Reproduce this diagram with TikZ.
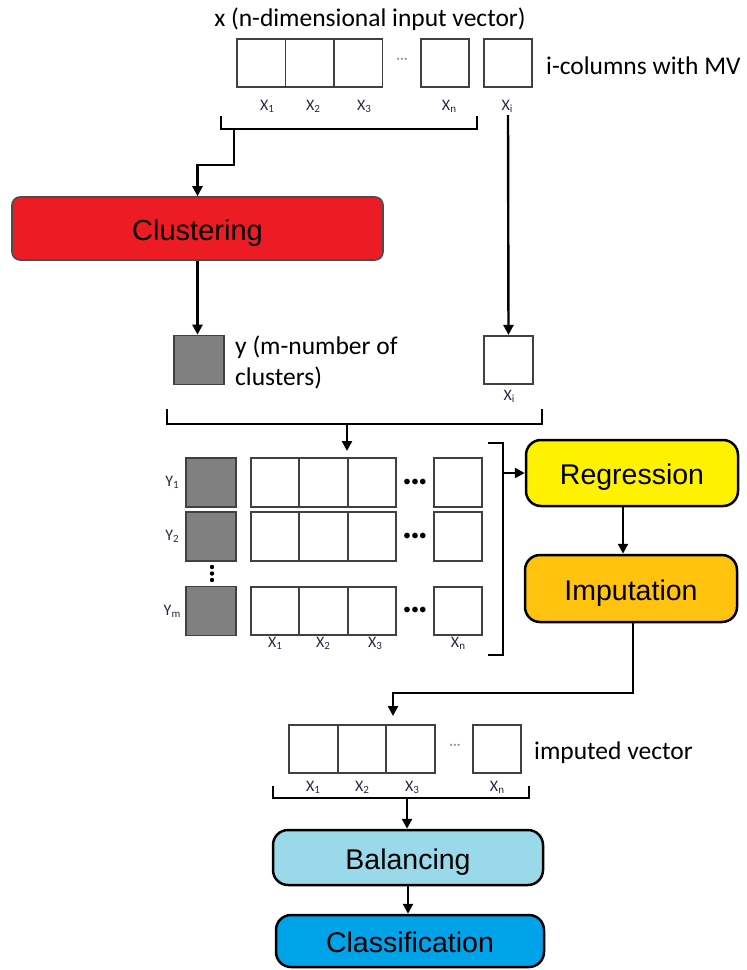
\documentclass[tikz,border=0pt]{standalone}
\usepackage{fontspec}
\setmainfont{Carlito}
\newfontfamily\arialf{Liberation Sans}
\usetikzlibrary{arrows.meta,calc}
\definecolor{clusterred}{RGB}{237,28,36}
\definecolor{regyellow}{RGB}{255,242,0}
\definecolor{impor}{RGB}{255,194,14}
\definecolor{balblue}{RGB}{153,217,234}
\definecolor{clsblue}{RGB}{0,162,232}
\definecolor{cellgray}{RGB}{128,128,128}
\definecolor{labcol}{RGB}{40,40,70}
\newcommand{\lsub}[1]{\raisebox{-2.2pt}{\fontsize{11}{11}\selectfont #1}}
\begin{document}
\begin{tikzpicture}[x=1pt,y=-1pt,
  cell/.style={draw=black!75,line width=1.7pt,fill=white,minimum width=48.5pt,minimum height=48.5pt,inner sep=0pt},
  graycell/.style={cell,fill=cellgray,minimum width=50pt,minimum height=49pt},
  lab/.style={font=\fontsize{16}{16}\selectfont,text=labcol,inner sep=0pt},
  big/.style={font=\fontsize{25.5}{31}\selectfont,inner sep=0pt},
  proc/.style={draw=black,line width=2.5pt,rounded corners=15pt,font=\arialf\fontsize{28.5}{30}\selectfont,inner sep=0pt,text height=23pt,text depth=0pt},
  lightdots/.style={font=\fontsize{15}{15}\selectfont,text=black!45,inner sep=0pt},
  bolddots/.style={font=\fontsize{16}{16}\selectfont,text=black,inner sep=0pt},
  conn/.style={line width=2.4pt,draw=black},
  arr/.style={conn,-{Triangle[length=10pt,width=10pt]}},
]
\useasboundingbox (0,0) rectangle (747,970);

% ---------- top input vector ----------
\node[big] (title) at (370,19) {x (n-dimensional input vector)};
\node[cell] (t1) at (261.3,63) {};
\node[cell] (t2) at (309.8,63) {};
\node[cell] (t3) at (358.3,63) {};
\node[lightdots] (tdots) at (402,61) {···};
\node[cell] (tn) at (445,63) {};
\node[cell] (ti) at (508,63) {};
\node[big,anchor=west] (mvlab) at (546,66) {i-columns with MV};
\node[lab] (lt1) at (267,106) {X\lsub{1}};
\node[lab] (lt2) at (313,106) {X\lsub{2}};
\node[lab] (lt3) at (364,106) {X\lsub{3}};
\node[lab] (ltn) at (449,106) {X\lsub{n}};
\node[lab] (lti) at (507,106) {X\lsub{i}};

% bracket under top vector
\coordinate (b1l) at (221,116);
\coordinate (b1r) at (477,116);
\coordinate (b1s) at (234,129);
\coordinate (b1k) at (234,165);
\coordinate (xis) at (508,115);
\draw[conn] (b1l) |- (b1s) -| (b1r);

% ---------- clustering ----------
\node[draw=black!70,line width=1.6pt,fill=clusterred,rounded corners=8pt,minimum width=371pt,minimum height=63pt,inner sep=0pt,text height=23pt,text depth=0pt,font=\arialf\fontsize{29}{30}\selectfont] (clust) at (197.5,228.5) {Clustering};
\draw[arr] (b1s) -- (b1k) -| (clust.north);

% ---------- y and xi ----------
\node[graycell] (ybox) at (199,360) {};
\node[big,anchor=west,align=left] (ylab) at (235,362) {y (m-number of\\clusters)};
\node[cell] (xibox) at (508.5,360) {};
\node[lab] (lxi) at (509,396) {X\lsub{i}};
\draw[arr] (clust.south) -- (clust.south |- ybox.north);
\draw[arr] (xis) -- (xibox.north);

% bracket under y / xi
\coordinate (b2l) at (167,409);
\coordinate (b2r) at (542,409);
\coordinate (b2s) at (347,424);
\coordinate (b2t) at (347,451);
\draw[conn] (b2l) |- (b2s) -| (b2r);
\draw[arr] (b2s) -- (b2t);

% ---------- cluster matrix ----------
\foreach \r/\yy/\sub in {1/482.5/1, 2/536.5/2, m/611/m}{
  \node[graycell] (g\r) at (211,\yy) {};
  \node[lab] (ly\r) at (172,\yy) {Y\lsub{\sub}};
  \node[cell] (m\r a) at (275,\yy) {};
  \node[cell] (m\r b) at (323.5,\yy) {};
  \node[cell] (m\r c) at (372,\yy) {};
  \node[bolddots] (md\r) at (415,\yy) {•••};
  \node[cell] (m\r n) at (458,\yy) {};
}
\foreach \k/\yy in {1/567,2/573.5,3/580}{
  \fill (212,\yy) circle (2.2pt);
}
\node[lab] (lm1) at (275,643) {X\lsub{1}};
\node[lab] (lm2) at (323,643) {X\lsub{2}};
\node[lab] (lm3) at (375,643) {X\lsub{3}};
\node[lab] (lmn) at (458,643) {X\lsub{n}};

% right bracket
\coordinate (b3t) at (488,443);
\coordinate (b3b) at (488,655);
\coordinate (b3m) at (503,473);
\draw[conn] (b3t) -- (503,443) -- (503,655) -- (b3b);

% ---------- regression / imputation ----------
\node[proc,fill=regyellow,minimum width=212pt,minimum height=66pt] (reg) at (632,473) {Regression};
\node[proc,fill=impor,minimum width=212pt,minimum height=67pt] (imp) at (631,588.5) {Imputation};
\draw[arr] (b3m) -- (reg.west);
\draw[arr] ([xshift=-9pt]reg.south) -- ([xshift=-9pt]reg.south |- imp.north);

% ---------- imputed vector ----------
\node[cell] (r1) at (313.5,749) {};
\node[cell] (r2) at (362,749) {};
\node[cell] (r3) at (410.5,749) {};
\node[lightdots] (rdots) at (455,747) {···};
\node[cell] (rn) at (497,749) {};
\node[big,anchor=west] (implab) at (534,753) {imputed vector};
\node[lab] (lr1) at (313,787) {X\lsub{1}};
\node[lab] (lr2) at (362,787) {X\lsub{2}};
\node[lab] (lr3) at (412,787) {X\lsub{3}};
\node[lab] (lrn) at (497,787) {X\lsub{n}};

\coordinate (c1) at (633,693);
\coordinate (c2) at (393,693);
\coordinate (c3) at (393,716);
\draw[arr] (imp.south -| c1) -- (c1) -- (c2) -- (c3);

% bracket under imputed vector
\coordinate (b4l) at (273,786);
\coordinate (b4r) at (529,786);
\coordinate (b4s) at (407,798);
\draw[conn] (b4l) |- (b4s) -| (b4r);

% ---------- balancing / classification ----------
\node[proc,fill=balblue,minimum width=270pt,minimum height=55pt] (bal) at (408,857.5) {Balancing};
\node[proc,fill=clsblue,minimum width=268pt,minimum height=52pt] (cls) at (410,941) {Classification};
\draw[arr] (b4s) -- (b4s |- bal.north);
\draw[arr] (bal.south) -- (bal.south |- cls.north);
\end{tikzpicture}
\end{document}
